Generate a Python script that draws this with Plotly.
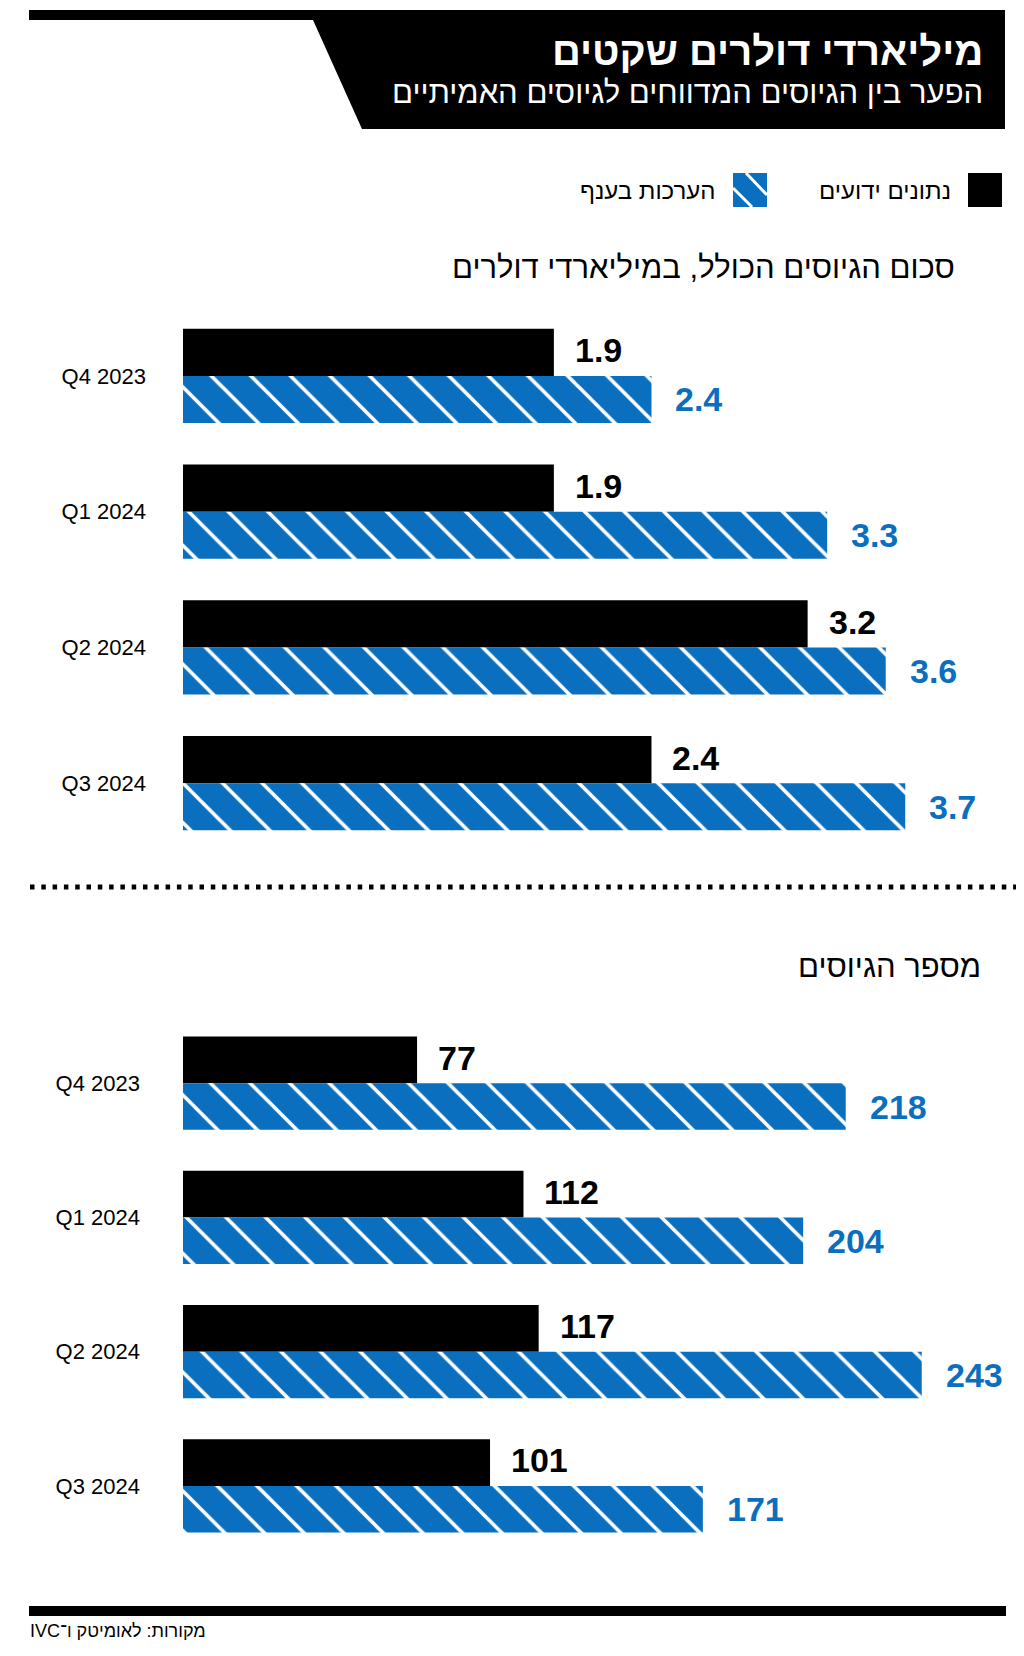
import plotly.graph_objects as go

# ---------------- data ----------------
quarters = ["Q4 2023", "Q1 2024", "Q2 2024", "Q3 2024"]
known_amount = [1.9, 1.9, 3.2, 2.4]        # billions USD, known data
est_amount = [2.4, 3.3, 3.6, 3.7]          # billions USD, industry estimates
known_count = [77, 112, 117, 101]          # number of rounds, known data
est_count = [218, 204, 243, 171]           # number of rounds, industry estimates

TITLE = "מיליארדי דולרים שקטים"
SUBTITLE = "הפער בין הגיוסים המדווחים לגיוסים האמיתיים"
LEG_KNOWN = "נתונים ידועים"
LEG_EST = "הערכות בענף"
SEC1 = "סכום הגיוסים הכולל, במיליארדי דולרים"
SEC2 = "מספר הגיוסים"
SOURCE = "מקורות: לאומיטק ו־IVC"

# ---------------- style ----------------
OFF = 8                      # page body margin
W, H = 1024 - OFF, 1656 - OFF
BLUE = "#0a6fbf"
FONT = "Liberation Sans, DejaVu Sans, sans-serif"


def rtl(s):
    return "\u202b" + s + "\u202c"


def px(x):
    return (x - OFF) / W


def py(y):
    return 1 - (y - OFF) / H


fig = go.Figure()

pattern = dict(shape="\\", fgcolor="white", fgopacity=1, size=28, solidity=0.13, fillmode="overlay")

fig.add_trace(go.Bar(y=quarters, x=known_amount, orientation="h", marker=dict(color="black", line=dict(width=0)),
                     xaxis="x", yaxis="y", showlegend=False, hoverinfo="skip"))
fig.add_trace(go.Bar(y=quarters, x=est_amount, orientation="h",
                     marker=dict(color=BLUE, pattern=pattern, line=dict(width=0)),
                     xaxis="x", yaxis="y", showlegend=False, hoverinfo="skip"))
fig.add_trace(go.Bar(y=quarters, x=known_count, orientation="h", marker=dict(color="black", line=dict(width=0)),
                     xaxis="x2", yaxis="y2", showlegend=False, hoverinfo="skip"))
fig.add_trace(go.Bar(y=quarters, x=est_count, orientation="h",
                     marker=dict(color=BLUE, pattern=pattern, line=dict(width=0)),
                     xaxis="x2", yaxis="y2", showlegend=False, hoverinfo="skip"))

annotations = []
BAR_HALF = 23.5
for xa, ya, kv, ev, fmt in [("x", "y", known_amount, est_amount, "{:.1f}"),
                            ("x2", "y2", known_count, est_count, "{:d}")]:
    for q, k, e in zip(quarters, kv, ev):
        annotations.append(dict(x=k, y=q, xref=xa, yref=ya, text=fmt.format(k), showarrow=False,
                                xanchor="left", yanchor="middle", xshift=19, yshift=BAR_HALF + 2,
                                font=dict(family=FONT, size=34, color="black", weight="bold")))
        annotations.append(dict(x=e, y=q, xref=xa, yref=ya, text=fmt.format(e), showarrow=False,
                                xanchor="left", yanchor="middle", xshift=22, yshift=-BAR_HALF,
                                font=dict(family=FONT, size=34, color=BLUE, weight="bold")))


def txt(s, x, y, size, color="black", bold=False, xanchor="right"):
    return dict(text=rtl(s), x=px(x), y=py(y), xref="paper", yref="paper", showarrow=False,
                xanchor=xanchor, yanchor="middle",
                font=dict(family=FONT, size=size, color=color, weight="bold" if bold else "normal"))


annotations += [
    txt(TITLE, 985, 51, 40, "white", True),
    txt(SUBTITLE, 985, 93, 31, "white"),
    txt(LEG_KNOWN, 953, 190, 24),
    txt(LEG_EST, 718, 190, 24),
    txt(SEC1, 957, 267, 31),
    txt(SEC2, 983, 966, 31),
    txt(SOURCE, 28, 1631, 18, xanchor="left"),
]

shapes = [
    # header black banner
    dict(type="path", xref="paper", yref="paper", fillcolor="black", line=dict(width=0),
         path=(f"M {px(29)} {py(10)} L {px(1005)} {py(10)} L {px(1005)} {py(129)} "
               f"L {px(362)} {py(129)} L {px(313)} {py(20)} L {px(29)} {py(20)} Z")),
    # legend swatches
    dict(type="rect", xref="paper", yref="paper", x0=px(968), x1=px(1002), y0=py(173), y1=py(207),
         fillcolor="black", line=dict(width=0)),
    dict(type="rect", xref="paper", yref="paper", x0=px(733), x1=px(767), y0=py(173), y1=py(207),
         fillcolor=BLUE, line=dict(width=0)),
    dict(type="line", xref="paper", yref="paper", x0=px(746), y0=py(173), x1=px(767), y1=py(195),
         line=dict(color="white", width=3)),
    dict(type="line", xref="paper", yref="paper", x0=px(733), y0=py(188), x1=px(752), y1=py(207),
         line=dict(color="white", width=3)),
    # dotted separator
    dict(type="line", xref="paper", yref="paper", x0=px(30), x1=px(1024), y0=py(887), y1=py(887),
         line=dict(color="black", width=5, dash="4.5px,6.8px")),
    # footer bar
    dict(type="rect", xref="paper", yref="paper", x0=px(29), x1=px(1006), y0=py(1606), y1=py(1616),
         fillcolor="black", line=dict(width=0)),
]

X0 = 183
axis_common = dict(visible=False, showgrid=False, zeroline=False, fixedrange=True)
ycommon = dict(showgrid=False, zeroline=False, showline=False, ticks="", range=[3.5, -0.5],
               tickfont=dict(family=FONT, size=22, color="black"), fixedrange=True)

fig.update_layout(
    width=W, height=H, margin=dict(l=0, r=0, t=0, b=0),
    paper_bgcolor="white", plot_bgcolor="white",
    barmode="group", bargap=0.307, bargroupgap=0,
    xaxis=dict(domain=[px(X0), 1], range=[0, (1024 - X0) / 195.2], anchor="y", **axis_common),
    yaxis=dict(domain=[py(851), py(308)], anchor="x", ticklabelstandoff=36, **ycommon),
    xaxis2=dict(domain=[px(X0), 1], range=[0, (1024 - X0) / 3.04], anchor="y2", **axis_common),
    yaxis2=dict(domain=[py(1553), py(1016)], anchor="x2", ticklabelstandoff=42, **ycommon),
    annotations=annotations,
    shapes=shapes,
    showlegend=False,
)

fig.write_html("out.html")
